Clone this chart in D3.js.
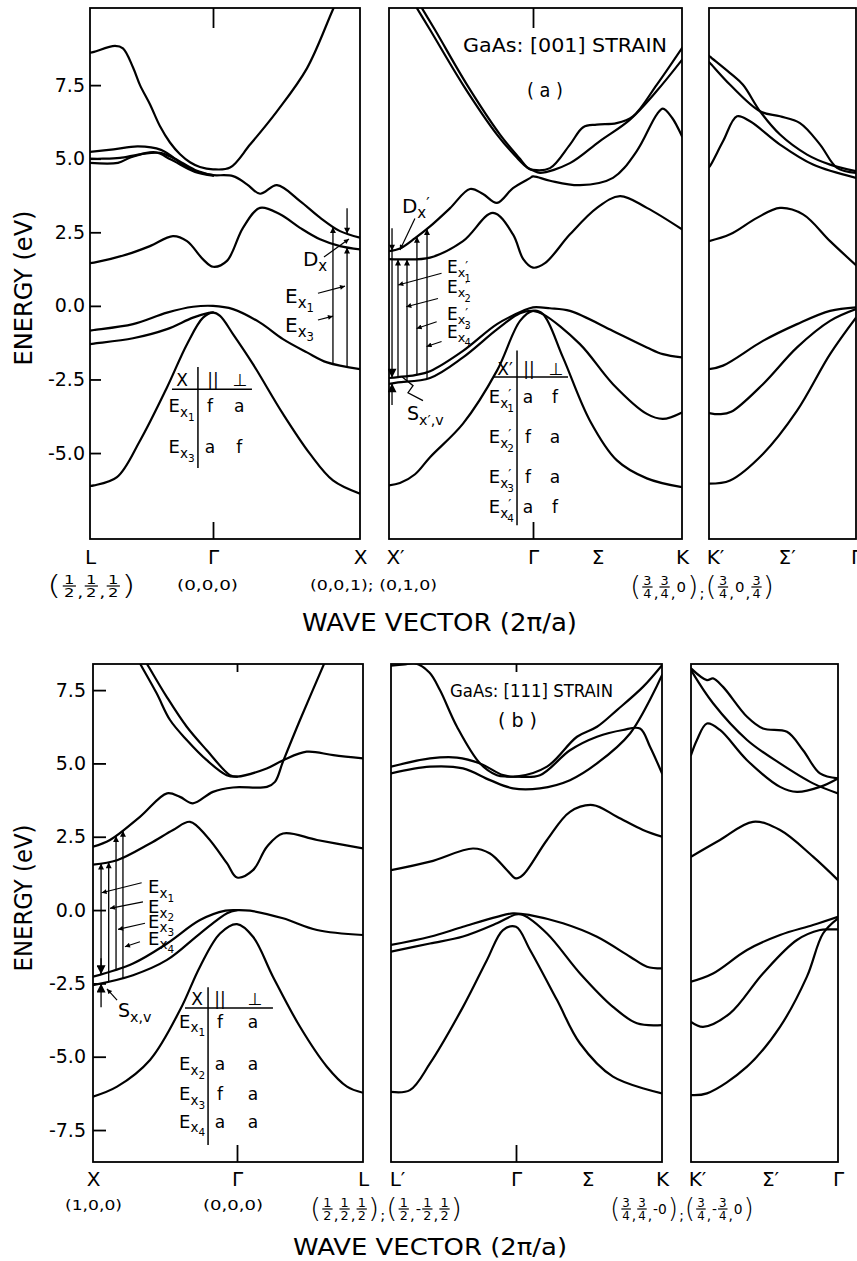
<!DOCTYPE html>
<html>
<head>
<meta charset="utf-8">
<script src="https://cdn.jsdelivr.net/npm/d3@7"></script>
<style>
  body { margin: 0; background: #fff; }
  svg { display: block; }
  text { font-family: 'DejaVu Sans', sans-serif; fill: #000; }
</style>
</head>
<body>
<svg id="fig" width="857" height="1261"></svg>
<script>
// ---- bands, [k (2pi/a), E (eV)] ----
// (a) L - Gamma - X
const a1_c4 = [[-0.866,8.6],[-0.838,8.63],[-0.69,8.83],[-0.634,8.75],[-0.563,8.1],[-0.514,7.5],[-0.444,6.85],[-0.373,6.1],[-0.303,5.55],[-0.232,5.15],[-0.162,4.88],[-0.092,4.72],[0,4.64],[0.116,4.7],[0.252,5.48],[0.435,6.61],[0.639,8.07],[0.816,10.07],[0.9,11.0]];
const a1_c3 = [[-0.866,5.23],[-0.7,5.32],[-0.528,5.42],[-0.366,5.3],[-0.176,4.69],[-0.07,4.5],[0,4.44],[0.136,4.41],[0.231,4.13],[0.32,3.81],[0.435,4.1],[0.592,3.56],[0.728,3.0],[0.864,2.54],[1.0,2.32]];
const a1_c2 = [[-0.866,5.0],[-0.775,5.0],[-0.655,5.03],[-0.514,5.15],[-0.373,5.2],[-0.268,5.0],[-0.127,4.62],[0,4.44]];
const a1_c1 = [[-0.866,4.86],[-0.669,4.86],[-0.577,5.05],[-0.408,5.22],[-0.296,4.97],[-0.127,4.55],[0,4.42]];
const a1_c0 = [[-0.866,1.45],[-0.838,1.47],[-0.605,1.75],[-0.444,2.03],[-0.282,2.37],[-0.183,2.2],[-0.07,1.58],[0,1.33],[0.095,1.53],[0.204,2.65],[0.32,3.33],[0.456,3.11],[0.592,2.65],[0.728,2.26],[0.864,2.03],[1.0,1.92]];
const a1_v1 = [[-0.866,-0.84],[-0.838,-0.82],[-0.563,-0.62],[-0.324,-0.23],[-0.14,-0.03],[0,0],[0.136,-0.11],[0.32,-0.57],[0.476,-1.13],[0.639,-1.58],[0.776,-1.92],[1.0,-2.15]];
const a1_v2 = [[-0.866,-1.3],[-0.838,-1.28],[-0.563,-1.1],[-0.324,-0.79],[-0.141,-0.4],[-0.03,-0.24],[0,-0.22]];
const a1_v3 = [[-0.866,-6.12],[-0.838,-6.1],[-0.676,-5.82],[-0.514,-4.58],[-0.324,-2.77],[-0.183,-1.3],[-0.07,-0.4],[0,-0.23],[0.048,-0.34],[0.136,-0.96],[0.272,-1.98],[0.476,-3.67],[0.66,-5.03],[0.816,-5.93],[1.0,-6.38]];
// (a) X' - Gamma - K
const a2_c4 = [[-0.854,10.5],[-0.715,9.38],[-0.486,7.51],[-0.25,5.82],[-0.111,5.03],[-0.04,4.7],[0,4.62],[0.121,4.68],[0.263,5.48],[0.357,6.07],[0.453,6.16],[0.595,6.21],[0.711,6.44],[0.88,7.51],[1.06,8.76]];
const a2_c5 = [[-0.819,10.5],[-0.681,9.38],[-0.458,7.51],[-0.229,5.82],[-0.097,5.03],[-0.03,4.66],[0,4.6],[0.05,4.52],[0.263,4.85],[0.476,5.6],[0.69,6.33],[0.88,7.3],[1.06,8.36]];
const a2_c2 = [[-1,1.86],[-0.924,1.95],[-0.819,2.3],[-0.715,2.7],[-0.576,3.32],[-0.4375,3.97],[-0.347,3.8],[-0.25,3.5],[-0.139,4.0],[-0.021,4.34],[0,4.4],[0.121,4.25],[0.334,4.1],[0.569,4.35],[0.737,5.25],[0.88,6.5],[0.924,6.7],[0.988,6.4],[1.06,5.76]];
const a2_c1 = [[-1,1.59],[-0.924,1.58],[-0.715,1.64],[-0.486,2.2],[-0.278,3.16],[-0.139,2.43],[-0.069,1.6],[0,1.3],[0.085,1.45],[0.263,2.43],[0.455,3.33],[0.619,3.73],[0.81,3.33],[1.06,2.6]];
const a2_v1 = [[-1,-2.45],[-0.9375,-2.42],[-0.819,-2.35],[-0.715,-2.22],[-0.486,-1.53],[-0.25,-0.62],[-0.069,-0.17],[0,-0.05],[0.12,-0.08],[0.263,-0.17],[0.569,-0.85],[0.81,-1.41],[0.924,-1.64],[1.06,-1.75]];
const a2_v2 = [[-1,-2.65],[-0.9375,-2.6],[-0.715,-2.45],[-0.486,-1.75],[-0.25,-0.8],[-0.09,-0.25],[0,-0.17],[0.071,-0.28],[0.334,-1.3],[0.569,-2.66],[0.81,-3.67],[0.924,-3.84],[1.06,-3.62]];
const a2_v3 = [[-1,-6.1],[-0.924,-6.02],[-0.819,-5.72],[-0.715,-5.14],[-0.486,-4.0],[-0.25,-2.2],[-0.09,-0.51],[0,-0.17],[0.071,-0.28],[0.213,-1.75],[0.405,-3.9],[0.597,-5.25],[0.81,-5.86],[1.06,-6.16]];
// (a) K' - Gamma
const a3_c4 = [[-1.06,8.5],[-1.053,8.47],[-0.908,7.91],[-0.815,7.51],[-0.692,6.61],[-0.548,5.82],[-0.353,5.14],[-0.187,4.8],[0,4.58]];
const a3_c5 = [[-1.06,8.28],[-1.053,8.25],[-0.908,7.51],[-0.692,6.61],[-0.548,6.44],[-0.404,6.21],[-0.259,5.48],[-0.137,4.69],[0,4.52]];
const a3_c3 = [[-1.06,4.72],[-1.053,4.75],[-0.959,5.59],[-0.858,6.44],[-0.764,6.27],[-0.548,5.48],[-0.31,4.8],[0,4.35]];
const a3_c1 = [[-1.06,2.2],[-0.908,2.43],[-0.714,2.99],[-0.548,3.33],[-0.382,3.11],[-0.187,2.2],[0,1.38]];
const a3_v1 = [[-1.06,-2.15],[-0.959,-2.03],[-0.671,-1.19],[-0.425,-0.62],[-0.187,-0.17],[0,-0.05]];
const a3_v2 = [[-1.06,-3.64],[-0.98,-3.68],[-0.9,-3.6],[-0.671,-2.66],[-0.425,-1.41],[-0.187,-0.51],[0,-0.11]];
const a3_v3 = [[-1.06,-6.04],[-0.908,-5.93],[-0.671,-5.03],[-0.425,-3.56],[-0.187,-1.64],[0,-0.4]];
// (b) X - Gamma - L
const b1_c4 = [[-0.74,9.0],[-0.674,8.41],[-0.558,7.39],[-0.465,6.48],[-0.349,5.8],[-0.21,5.11],[-0.072,4.6],[0,4.55],[0.204,4.83],[0.318,5.11],[0.479,5.4],[0.662,5.28],[0.866,5.17]];
const b1_c5 = [[-0.7,9.0],[-0.627,8.41],[-0.488,7.27],[-0.349,6.25],[-0.21,5.45],[-0.049,4.6],[0,4.55]];
const b1_c2 = [[-1,2.16],[-0.882,2.39],[-0.674,3.18],[-0.486,3.98],[-0.396,3.86],[-0.306,3.64],[-0.167,4.03],[-0.028,4.18],[0.206,4.2],[0.261,4.37],[0.316,5.06],[0.433,6.48],[0.605,8.47],[0.674,9.3]];
const b1_c1 = [[-1,1.55],[-0.833,1.7],[-0.604,2.27],[-0.444,2.73],[-0.326,3.01],[-0.208,2.5],[-0.069,1.59],[0,1.11],[0.11,1.36],[0.206,2.16],[0.316,2.61],[0.55,2.39],[0.866,2.1]];
const b1_v1 = [[-1,-2.27],[-0.722,-1.82],[-0.486,-1.14],[-0.257,-0.34],[-0.08,-0.02],[0,0],[0.09,-0.02],[0.316,-0.28],[0.55,-0.68],[0.866,-0.85]];
const b1_v2 = [[-1,-2.56],[-0.722,-2.22],[-0.486,-1.7],[-0.257,-0.8],[-0.069,-0.11],[0,0]];
const b1_v3 = [[-1,-6.36],[-0.833,-6.02],[-0.604,-5.11],[-0.396,-3.41],[-0.257,-1.93],[-0.118,-0.8],[0,-0.48],[0.11,-0.91],[0.247,-2.27],[0.433,-3.98],[0.618,-5.34],[0.756,-6.02],[0.866,-6.23]];
// (b) L' - Gamma - K
const b2_c4 = [[-0.866,4.89],[-0.596,5.17],[-0.409,5.2],[-0.249,5.0],[-0.09,4.6],[0,4.55],[0.225,4.89],[0.443,5.91],[0.588,6.25],[0.733,6.82],[0.922,7.61],[1.06,8.35]];
const b2_c5 = [[-0.866,8.33],[-0.77,8.38],[-0.7,8.42],[-0.6,8.1],[-0.527,7.5],[-0.409,6.25],[-0.249,5.0],[-0.132,4.6],[-0.062,4.55],[0,4.55],[0.174,4.6],[0.392,5.45],[0.588,5.91],[0.777,6.14],[0.9,6.19],[0.973,5.57],[1.06,4.66]];
const b2_c3 = [[-0.866,4.66],[-0.596,4.89],[-0.367,4.83],[-0.18,4.43],[-0.021,4.15],[0.174,4.15],[0.392,4.43],[0.588,5.0],[0.828,6.02],[1.06,8.01]];
const b2_c1 = [[-0.866,1.36],[-0.596,1.65],[-0.298,2.1],[-0.18,1.93],[-0.062,1.36],[0,1.08],[0.051,1.2],[0.225,2.39],[0.392,3.35],[0.559,3.58],[0.733,3.18],[0.922,2.73],[1.06,2.5]];
const b2_v1 = [[-0.866,-1.19],[-0.596,-0.91],[-0.367,-0.57],[-0.132,-0.23],[-0.021,-0.11],[0.102,-0.17],[0.341,-0.45],[0.588,-0.91],[0.828,-1.59],[0.951,-1.93],[1.06,-1.99]];
const b2_v2 = [[-0.866,-1.42],[-0.596,-1.14],[-0.367,-0.9],[-0.132,-0.45],[0,-0.15],[0.051,-0.17],[0.225,-0.8],[0.465,-2.16],[0.704,-3.3],[0.878,-3.86],[1.06,-3.92]];
const b2_v3 = [[-0.866,-6.2],[-0.735,-6.14],[-0.596,-5.23],[-0.367,-3.3],[-0.201,-1.7],[-0.09,-0.68],[0,-0.57],[0.102,-1.36],[0.298,-3.07],[0.465,-4.55],[0.704,-5.68],[1.06,-6.25]];
// (b) K' - Gamma
const b3_c4 = [[-1.06,8.24],[-0.945,7.84],[-0.901,7.9],[-0.829,7.61],[-0.656,6.59],[-0.541,6.19],[-0.368,6.08],[-0.252,5.45],[-0.13,4.66],[0,4.49]];
const b3_c5 = [[-1.06,8.18],[-0.901,7.05],[-0.656,5.8],[-0.418,5.0],[-0.18,4.32],[0,3.98]];
const b3_c3 = [[-1.06,5.28],[-1.017,5.8],[-0.945,6.36],[-0.851,6.14],[-0.656,5.11],[-0.418,4.2],[-0.296,4.03],[-0.13,4.2],[0,4.49]];
const b3_c1 = [[-1.06,1.82],[-0.851,2.39],[-0.613,3.01],[-0.418,2.73],[-0.18,1.82],[0,1.02]];
const b3_v1 = [[-1.06,-2.44],[-0.901,-2.16],[-0.656,-1.36],[-0.418,-0.85],[-0.18,-0.51],[0,-0.23]];
const b3_v2 = [[-1.06,-3.81],[-0.973,-3.98],[-0.779,-3.52],[-0.541,-2.16],[-0.296,-1.02],[-0.13,-0.68],[-0.06,-0.66],[0,-0.66]];
const b3_v3 = [[-1.06,-6.31],[-0.945,-6.25],[-0.656,-5.34],[-0.418,-3.98],[-0.224,-2.27],[-0.108,-0.8],[0,-0.28]];

// symmetry points along each segment
const symA1 = ['L', 'Γ', 'X'],        symKA1 = [-0.866, 0, 1];
const symA2 = ['X′', 'Γ', 'Σ', 'K'],  symKA2 = [-1, 0, 0.46, 1.06];
const symA3 = ['K′', 'Σ′', 'Γ'],      symKA3 = [-1.06, -0.5, 0];
const symB1 = ['X', 'Γ', 'L'],        symKB1 = [-1, 0, 0.866];
const symB2 = ['L′', 'Γ', 'Σ', 'K'],  symKB2 = [-0.866, 0, 0.52, 1.06];
const symB3 = ['K′', 'Σ′', 'Γ'],      symKB3 = [-1.06, -0.49, 0];

const eTicksA = [-5, -2.5, 0, 2.5, 5, 7.5];
const eTicksB = [-7.5, -5, -2.5, 0, 2.5, 5, 7.5];

// transitions (k of each vertical arrow)
const transA1 = [0.816, 0.912];                     // E_x3, E_x1
const transA2 = [-0.9375, -0.875, -0.806, -0.736];  // E_x'1..4
const transB1 = [-0.944, -0.891, -0.84, -0.792];    // E_x1..4
const splitA1 = [0.912, 3.32];          // D_x: k, top energy
const splitA2 = [-0.979, 2.64, -3.37];  // D_x', S_x',v: k, top, bottom
const splitB1 = [-0.944, -3.31];        // S_x,v: k, bottom

// selection-rule tables
const headA1 = ['X', '||', '⊥'];
const rowsA1 = [['1', 'f', 'a'], ['3', 'a', 'f']];
const headA2 = ['X′', '||', '⊥'];
const rowsA2 = [['1', 'a', 'f'], ['2', 'f', 'a'], ['3', 'f', 'a'], ['4', 'a', 'f']];
const headB1 = ['X', '||', '⊥'];
const rowsB1 = [['1', 'f', 'a'], ['2', 'a', 'a'], ['3', 'f', 'a'], ['4', 'a', 'a']];

// wave-vector coordinates under the axes
const coordA1 = ['(', ['1', '2'], ',', ['1', '2'], ',', ['1', '2'], ')'];
const coordA2 = '(0,0,0)';
const coordA3 = '(0,0,1); (0,1,0)';
const coordA4 = ['(', ['3', '4'], ',', ['3', '4'], ',', '0', ')', ';', '(', ['3', '4'], ',', '0', ',', ['3', '4'], ')'];
const coordB1 = '(1,0,0)';
const coordB2 = '(0,0,0)';
const coordB3 = ['(', ['1', '2'], ',', ['1', '2'], ',', ['1', '2'], ')', ';', '(', ['1', '2'], ',', '-', ['1', '2'], ',', ['1', '2'], ')'];
const coordB4 = ['(', ['3', '4'], ',', ['3', '4'], ',', '-0', ')', ';', '(', ['3', '4'], ',', '-', ['3', '4'], ',', '0', ')'];

// ---------------------------------------------------------------
const svg = d3.select('#fig');
const defs = svg.append('defs');
const pathOf = new Map();

function marker(id, len, wid) {
  defs.append('marker').attr('id', id)
    .attr('viewBox', '0 0 10 10').attr('refX', 10).attr('refY', 5)
    .attr('markerWidth', len).attr('markerHeight', wid)
    .attr('markerUnits', 'userSpaceOnUse').attr('orient', 'auto')
    .append('path').attr('d', 'M0,0L10,5L0,10Z').attr('fill', '#000');
}
marker('tip', 9, 6);
marker('big', 11, 9);
marker('lead', 7, 5);

const rowA = { dom: [-7.92, 10.12], top: 8, bottom: 539, tickIn: 11, pad: 5, gTop: 20 };
const rowB = { dom: [-8.59, 8.39], top: 664, bottom: 1162, tickIn: 13, pad: 7, gTop: 8 };

const P = {
  a1: { row: rowA, k: [-0.866, 0, 1], px: [90, 213, 360], sym: symA1, symK: symKA1, gamma: true, eTicks: eTicksA,
        bands: [a1_c4, a1_c3, a1_c2, a1_c1, a1_c0, a1_v1, a1_v2, a1_v3] },
  a2: { row: rowA, k: [-1, 0, 1.06], px: [389, 533, 682], sym: symA2, symK: symKA2, gamma: true,
        bands: [a2_c4, a2_c5, a2_c2, a2_c1, a2_v1, a2_v2, a2_v3] },
  a3: { row: rowA, k: [-1.06, 0], px: [709, 856], sym: symA3, symK: symKA3,
        bands: [a3_c4, a3_c5, a3_c3, a3_c1, a3_v1, a3_v2, a3_v3] },
  b1: { row: rowB, k: [-1, 0, 0.866], px: [93, 237, 363], sym: symB1, symK: symKB1, gamma: true, eTicks: eTicksB,
        bands: [b1_c4, b1_c5, b1_c2, b1_c1, b1_v1, b1_v2, b1_v3] },
  b2: { row: rowB, k: [-0.866, 0, 1.06], px: [391, 516, 662], sym: symB2, symK: symKB2, gamma: true,
        bands: [b2_c4, b2_c5, b2_c3, b2_c1, b2_v1, b2_v2, b2_v3] },
  b3: { row: rowB, k: [-1.06, 0], px: [691, 838], sym: symB3, symK: symKB3,
        bands: [b3_c4, b3_c5, b3_c3, b3_c1, b3_v1, b3_v2, b3_v3] }
};

Object.entries(P).forEach(([id, p]) => {
  const r = p.row;
  p.x = d3.scaleLinear().domain(p.k).range(p.px);
  p.y = d3.scaleLinear().domain(r.dom).range([r.bottom, r.top]);
  const x0 = p.px[0], x1 = p.px[p.px.length - 1];

  defs.append('clipPath').attr('id', 'clip-' + id).append('rect')
    .attr('x', x0).attr('y', r.top).attr('width', x1 - x0).attr('height', r.bottom - r.top);

  const line = d3.line().x(d => p.x(d[0])).y(d => p.y(d[1])).curve(d3.curveCatmullRom.alpha(0.5));
  const bg = svg.append('g').attr('clip-path', `url(#clip-${id})`);
  p.bands.forEach(b => {
    const node = bg.append('path').attr('d', line(b))
      .attr('fill', 'none').attr('stroke', '#000').attr('stroke-width', 2.2)
      .attr('stroke-linejoin', 'round').attr('stroke-linecap', 'round').node();
    pathOf.set(b, node);
  });

  svg.append('rect').attr('x', x0).attr('y', r.top).attr('width', x1 - x0).attr('height', r.bottom - r.top)
    .attr('fill', 'none').attr('stroke', '#000').attr('stroke-width', 1.8);

  // symmetry-point labels
  svg.append('g').attr('transform', `translate(0,${r.bottom})`)
    .call(d3.axisBottom(p.x).tickValues(p.symK).tickFormat((d, j) => p.sym[j]).tickSize(0).tickPadding(r === rowA ? 11 : 10))
    .call(g => g.select('.domain').remove())
    .call(g => g.selectAll('text').attr('font-size', 20)
      .attr('dx', (d, j) => (p.sym[j].includes('′') && j === 0) ? '0.3em' : 0));

  if (p.gamma) {
    svg.append('g').attr('transform', `translate(0,${r.bottom})`)
      .call(d3.axisBottom(p.x).tickValues([0]).tickSizeInner(-17).tickSizeOuter(0).tickFormat(''))
      .call(g => g.select('.domain').remove())
      .call(g => g.selectAll('line').attr('stroke-width', 1.8));
    svg.append('g').attr('transform', `translate(0,${r.top})`)
      .call(d3.axisTop(p.x).tickValues([0]).tickSizeInner(-r.gTop).tickSizeOuter(0).tickFormat(''))
      .call(g => g.select('.domain').remove())
      .call(g => g.selectAll('line').attr('stroke-width', 1.8));
  }

  if (p.eTicks) {
    svg.append('g').attr('transform', `translate(${x0},0)`)
      .call(d3.axisLeft(p.y).tickValues(p.eTicks).tickSizeInner(-r.tickIn).tickSizeOuter(0)
        .tickPadding(r.pad).tickFormat(d => d.toFixed(1)))
      .call(g => g.select('.domain').remove())
      .call(g => g.selectAll('line').attr('stroke-width', 1.8))
      .call(g => g.selectAll('text').attr('font-size', 19));
  }
});

// ---- helpers ----
function yOnPath(node, x) {
  let lo = 0, hi = node.getTotalLength();
  for (let i = 0; i < 40; i++) {
    const mid = (lo + hi) / 2;
    if (node.getPointAtLength(mid).x < x) lo = mid; else hi = mid;
  }
  return node.getPointAtLength((lo + hi) / 2).y;
}
const yAt = (band, x) => yOnPath(pathOf.get(band), x);

function arrowLine(x1, y1, x2, y2, mk, w) {
  svg.append('line').attr('x1', x1).attr('y1', y1).attr('x2', x2).attr('y2', y2)
    .attr('stroke', '#000').attr('stroke-width', w || 1.3)
    .attr('marker-end', mk ? `url(#${mk})` : null);
}
function vArrow(p, k, from, to) {
  const xx = p.x(k);
  arrowLine(xx, yAt(from, xx), xx, yAt(to, xx), 'tip');
}
function leader(p, k1, e1, k2, e2) {
  arrowLine(p.x(k1), p.y(e1), p.x(k2), p.y(e2), 'lead', 1.2);
}
function eText(g, x, y, main, sub, idx, opt = {}) {
  const fs = opt.fs || 19;
  const t = g.append('text').attr('x', x).attr('y', y).attr('font-size', fs);
  if (opt.anchor) t.attr('text-anchor', opt.anchor);
  t.append('tspan').text(main);
  t.append('tspan').attr('font-size', fs * 0.75).attr('dy', fs * 0.25).text(sub);
  if (opt.prime) {
    t.append('tspan').attr('font-size', fs * 0.75).attr('dy', -fs * 0.45).text('′');
    if (idx) t.append('tspan').attr('font-size', fs * 0.58).attr('dx', -fs * 0.22).attr('dy', fs * 0.7).text(idx);
  } else if (idx) {
    t.append('tspan').attr('font-size', fs * 0.58).attr('dy', fs * 0.22).text(idx);
  }
  return t;
}
function drawTable(p, head, rows, L) {
  const g = svg.append('g');
  head.forEach((h, i) => g.append('text').attr('x', p.x(L.headK[i])).attr('y', p.y(L.headE))
    .attr('text-anchor', 'middle').attr('font-size', 17).text(h));
  g.append('line').attr('x1', p.x(L.hl[0])).attr('x2', p.x(L.hl[1])).attr('y1', p.y(L.hl[2])).attr('y2', p.y(L.hl[2]))
    .attr('stroke', '#000').attr('stroke-width', 1.5);
  g.append('line').attr('x1', p.x(L.vl[0])).attr('x2', p.x(L.vl[0])).attr('y1', p.y(L.vl[1])).attr('y2', p.y(L.vl[2]))
    .attr('stroke', '#000').attr('stroke-width', 1.5);
  rows.forEach((r, i) => {
    const yy = p.y(L.rowE[i]);
    eText(g, p.x(L.labK), yy, 'E', 'x', r[0], { anchor: 'end', prime: L.prime, fs: 18 });
    g.append('text').attr('x', p.x(L.colK[0])).attr('y', yy).attr('text-anchor', 'middle').attr('font-size', 17).text(r[1]);
    g.append('text').attr('x', p.x(L.colK[1])).attr('y', yy).attr('text-anchor', 'middle').attr('font-size', 17).text(r[2]);
  });
}
function plainCoord(x, y, len, str) {
  svg.append('text').attr('x', x).attr('y', y).attr('font-size', 14)
    .attr('textLength', len).attr('lengthAdjust', 'spacingAndGlyphs').text(str);
}
function fracCoord(x0, width, yBar, tokens) {
  const g = svg.append('g');
  let cx = 0;
  tokens.forEach(tok => {
    if (Array.isArray(tok)) {
      const n = g.append('text').attr('font-size', 12).attr('text-anchor', 'middle').attr('y', yBar - 2).text(tok[0]);
      const d = g.append('text').attr('font-size', 12).attr('text-anchor', 'middle').attr('y', yBar + 11).text(tok[1]);
      const w = Math.max(n.node().getComputedTextLength(), d.node().getComputedTextLength()) + 2;
      n.attr('x', cx + w / 2); d.attr('x', cx + w / 2);
      g.append('line').attr('x1', cx).attr('x2', cx + w).attr('y1', yBar).attr('y2', yBar)
        .attr('stroke', '#000').attr('stroke-width', 1.2);
      cx += w + 1;
    } else {
      const paren = tok === '(' || tok === ')';
      const low = tok === ',' || tok === ';';
      const fs = paren ? 27 : 14;
      const yy = paren ? yBar + 8.5 : (low ? yBar + 11 : yBar + 5);
      const t = g.append('text').attr('font-size', fs).attr('x', cx).attr('y', yy).text(tok);
      if (paren) t.attr('font-weight', 300);
      cx += t.node().getComputedTextLength() + 1;
    }
  });
  g.attr('transform', `translate(${x0},0) scale(${width / cx},1)`);
}

// ---- (a) L-Gamma-X annotations ----
{
  const p = P.a1;
  vArrow(p, transA1[0], a1_v1, a1_c3);
  vArrow(p, transA1[1], a1_v1, a1_c0);
  const xx = p.x(splitA1[0]);
  arrowLine(xx, p.y(splitA1[1]), xx, yAt(a1_c3, xx), 'tip');
  leader(p, 0.755, 1.66, 0.925, 2.27);
  leader(p, 0.714, 0.43, 0.898, 0.67);
  leader(p, 0.714, -0.48, 0.816, -0.35);
  eText(svg, p.x(0.612), p.y(1.35), 'D', 'x', '', { fs: 20 });
  eText(svg, p.x(0.49), p.y(0.1), 'E', 'x', '1', { fs: 20 });
  eText(svg, p.x(0.49), p.y(-0.89), 'E', 'x', '3', { fs: 20 });
  drawTable(p, headA1, rowsA1, {
    headK: [-0.218, 0, 0.184], headE: -2.73, hl: [-0.289, 0.265, -2.83], vl: [-0.106, -2.08, -5.51],
    labK: -0.13, colK: [-0.021, 0.179], rowE: [-3.61, -5.0]
  });
}

// ---- (a) X'-Gamma-K annotations ----
{
  const p = P.a2;
  vArrow(p, transA2[0], a2_v1, a2_c1);
  vArrow(p, transA2[1], a2_v2, a2_c1);
  vArrow(p, transA2[2], a2_v1, a2_c2);
  vArrow(p, transA2[3], a2_v2, a2_c2);
  const xx = p.x(splitA2[0]);
  arrowLine(xx, p.y(splitA2[1]), xx, yAt(a2_c2, xx), 'tip');
  arrowLine(xx, yAt(a2_c2, xx), xx, yAt(a2_v1, xx), 'big');
  arrowLine(xx, p.y(splitA2[2]), xx, yAt(a2_v2, xx), 'big');
  leader(p, -0.82, 2.97, -0.924, 1.9);
  leader(p, -0.635, 1.11, -0.936, 0.71);
  leader(p, -0.66, 0.25, -0.88, -0.03);
  leader(p, -0.669, -0.54, -0.808, -0.77);
  leader(p, -0.635, -1.21, -0.739, -1.38);
  eText(svg, p.x(-0.91), p.y(3.14), 'D', 'x', '', { fs: 20, prime: true });
  [1.11, 0.43, -0.48, -1.09].forEach((e, i) =>
    eText(svg, p.x(-0.597), p.y(e), 'E', 'x', String(i + 1), { fs: 17, prime: true }));
  const zz = d3.line().x(d => p.x(d[0])).y(d => p.y(d[1]));
  svg.append('path').attr('d', zz([[-0.91, -2.41], [-0.833, -2.71], [-0.868, -2.95], [-0.764, -3.22]]))
    .attr('fill', 'none').attr('stroke', '#000').attr('stroke-width', 1.3);
  eText(svg, p.x(-0.875), p.y(-3.88), 'S', 'x′,v', '', { fs: 19 });
  drawTable(p, headA2, rowsA2, {
    headK: [-0.194, -0.028, 0.164], headE: -2.35, hl: [-0.278, 0.249, -2.42], vl: [-0.111, -1.52, -7.45],
    labK: -0.132, colK: [-0.035, 0.156], rowE: [-3.3, -4.66, -6.02, -7.04], prime: true
  });
}

// ---- (b) X-Gamma-L annotations ----
{
  const p = P.b1;
  vArrow(p, transB1[0], b1_v1, b1_c1);
  vArrow(p, transB1[1], b1_v2, b1_c1);
  vArrow(p, transB1[2], b1_v1, b1_c2);
  vArrow(p, transB1[3], b1_v2, b1_c2);
  const xx = p.x(splitB1[0]);
  const yv1 = yAt(b1_v1, xx);
  arrowLine(xx, yv1 - 16, xx, yv1, 'big');
  arrowLine(xx, p.y(splitB1[1]), xx, yAt(b1_v2, xx), 'big');
  leader(p, -0.662, 0.93, -0.94, 0.59);
  leader(p, -0.653, 0.28, -0.882, 0.06);
  leader(p, -0.639, -0.45, -0.826, -0.66);
  leader(p, -0.674, -1.08, -0.778, -1.25);
  leader(p, -0.833, -3.07, -0.903, -2.69);
  [0.58, -0.1, -0.61, -1.19].forEach((e, i) =>
    eText(svg, p.x(-0.618), p.y(e), 'E', 'x', String(i + 1), { fs: 18 }));
  eText(svg, p.x(-0.826), p.y(-3.65), 'S', 'x,v', '', { fs: 19 });
  drawTable(p, headB1, rowsB1, {
    headK: [-0.278, -0.118, 0.124], headE: -3.24, hl: [-0.361, 0.247, -3.34], vl: [-0.201, -2.63, -8.01],
    labK: -0.222, colK: [-0.118, 0.11], rowE: [-4.02, -5.46, -6.48, -7.43]
  });
}

// ---- titles, coordinates, axis names ----
svg.append('text').attr('x', 463).attr('y', 52).attr('font-size', 19)
  .attr('textLength', 204).attr('lengthAdjust', 'spacingAndGlyphs').text('GaAs: [001] STRAIN');
svg.append('text').attr('x', 527).attr('y', 97).attr('font-size', 20)
  .attr('textLength', 36).attr('lengthAdjust', 'spacingAndGlyphs').text('( a )');
svg.append('text').attr('x', 450).attr('y', 697).attr('font-size', 17)
  .attr('textLength', 163).attr('lengthAdjust', 'spacingAndGlyphs').text('GaAs: [111] STRAIN');
svg.append('text').attr('x', 498).attr('y', 727).attr('font-size', 19)
  .attr('textLength', 39).attr('lengthAdjust', 'spacingAndGlyphs').text('( b )');

fracCoord(47, 90, 586, coordA1);
plainCoord(177, 590, 61, coordA2);
plainCoord(310, 590, 127, coordA3);
fracCoord(630, 145, 587, coordA4);
plainCoord(65, 1210, 57, coordB1);
plainCoord(203, 1210, 60, coordB2);
fracCoord(310, 153, 1209, coordB3);
fracCoord(610, 145, 1209, coordB4);

svg.append('text').attr('x', 302).attr('y', 631).attr('font-size', 24)
  .attr('textLength', 275).attr('lengthAdjust', 'spacingAndGlyphs').text('WAVE VECTOR (2π/a)');
svg.append('text').attr('x', 293).attr('y', 1255).attr('font-size', 23)
  .attr('textLength', 274).attr('lengthAdjust', 'spacingAndGlyphs').text('WAVE VECTOR (2π/a)');

[[288, 155], [898, 147]].forEach(([cy, len]) =>
  svg.append('text').attr('transform', `translate(32,${cy}) rotate(-90)`).attr('text-anchor', 'middle')
    .attr('font-size', 24).attr('textLength', len).attr('lengthAdjust', 'spacingAndGlyphs').text('ENERGY (eV)'));
</script>
</body>
</html>
